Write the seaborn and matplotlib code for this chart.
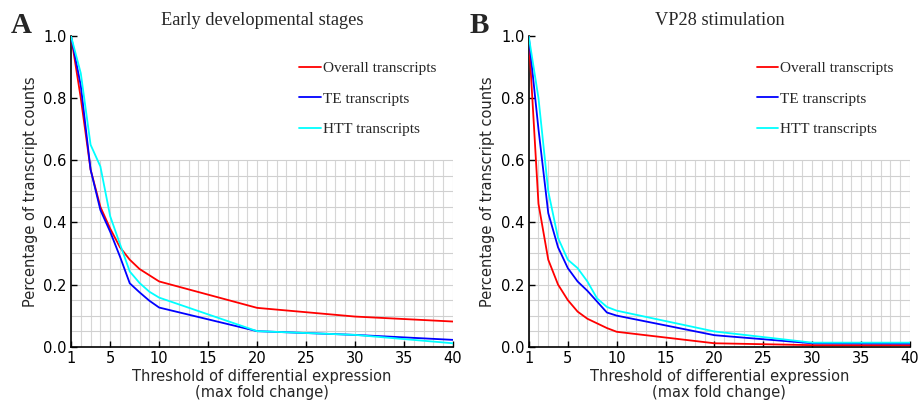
import numpy as np
import pandas as pd
import matplotlib
matplotlib.use("Agg")
import matplotlib.pyplot as plt
import seaborn as sns

thresholds = [1, 2, 3, 4, 5, 6, 7, 8, 9, 10, 20, 30, 40]
series_names = ["Overall transcripts", "TE transcripts", "HTT transcripts"]
colors = ["#ff0000", "#0000ff", "#00ffff"]

a_overall = [1.0, 0.80, 0.57, 0.45, 0.38, 0.32, 0.28, 0.25, 0.23, 0.21, 0.125, 0.097, 0.081]
a_te      = [1.0, 0.84, 0.57, 0.44, 0.37, 0.29, 0.204, 0.175, 0.148, 0.126, 0.05, 0.038, 0.022]
a_htt     = [1.0, 0.88, 0.65, 0.58, 0.42, 0.33, 0.242, 0.205, 0.177, 0.158, 0.05, 0.038, 0.011]

b_overall = [1.0, 0.46, 0.28, 0.20, 0.15, 0.113, 0.09, 0.075, 0.06, 0.048, 0.011, 0.005, 0.005]
b_te      = [1.0, 0.70, 0.43, 0.32, 0.253, 0.21, 0.18, 0.145, 0.11, 0.10, 0.037, 0.011, 0.01]
b_htt     = [1.0, 0.80, 0.50, 0.35, 0.28, 0.253, 0.21, 0.155, 0.128, 0.116, 0.049, 0.013, 0.013]

xticks = [1, 5, 10, 15, 20, 25, 30, 35, 40]
yticks = [0.0, 0.2, 0.4, 0.6, 0.8, 1.0]
titles = ["Early developmental stages", "VP28 stimulation"]
letters = ["A", "B"]

sns.set_theme(style="white")
plt.rcParams["font.family"] = ["DejaVu Sans"]

def make_df(vals):
    rows = []
    for name, v in zip(series_names, vals):
        for x, y in zip(thresholds, v):
            rows.append({"x": x, "y": y, "series": name})
    return pd.DataFrame(rows)

fig = plt.figure(figsize=(9.21, 4.03), dpi=100)
positions = [[71/921, 1-346.7/403, 382/921, 310.7/403],
             [528.7/921, 1-346.7/403, 381.3/921, 310.7/403]]
data = [[a_overall, a_te, a_htt], [b_overall, b_te, b_htt]]
letter_x = [11/921, 470/921]

serif = ["Liberation Serif", "DejaVu Serif"]
for i in range(2):
    ax = fig.add_axes(positions[i])
    df = make_df(data[i])
    # grid only in the lower region
    for gx in range(1, 41):
        ax.plot([gx, gx], [0, 0.6], color="#d6d6d6", lw=0.8, zorder=0)
    for gy in np.arange(0.05, 0.601, 0.05):
        ax.plot([1, 40], [gy, gy], color="#d0d0d0", lw=0.8, zorder=0)
    sns.lineplot(data=df, x="x", y="y", hue="series", palette=colors,
                 hue_order=series_names, ax=ax, lw=1.3, zorder=3)
    ax.set_xlim(1, 40)
    ax.set_ylim(0, 1.0)
    ax.set_xticks(xticks)
    ax.set_yticks(yticks)
    ax.set_yticklabels([f"{t:.1f}" for t in yticks])
    ax.tick_params(axis="both", direction="in", length=4, width=1, labelsize=10.5,
                   colors="black", pad=3, bottom=True, left=True)
    for s in ["top", "right"]:
        ax.spines[s].set_visible(False)
    for s in ["left", "bottom"]:
        ax.spines[s].set_color("black")
        ax.spines[s].set_linewidth(1.2)
    ax.set_xlabel("Threshold of differential expression\n(max fold change)", fontsize=10.5,
                  linespacing=1.12, labelpad=2)
    ax.set_ylabel("Percentage of transcript counts", fontsize=10.5, labelpad=4)
    ax.set_title(titles[i], fontsize=13.2, family=serif, pad=8)
    leg = ax.legend(loc="upper left", bbox_to_anchor=(0.562, 0.962), frameon=False,
                    handlelength=1.4, handletextpad=0.15, labelspacing=1.1,
                    prop={"family": serif, "size": 11})
    fig.text(letter_x[i], 0.97, letters[i], fontsize=21, fontweight="bold",
             family=serif, va="top", ha="left")

fig.savefig("out.png", dpi=100, facecolor="white")
